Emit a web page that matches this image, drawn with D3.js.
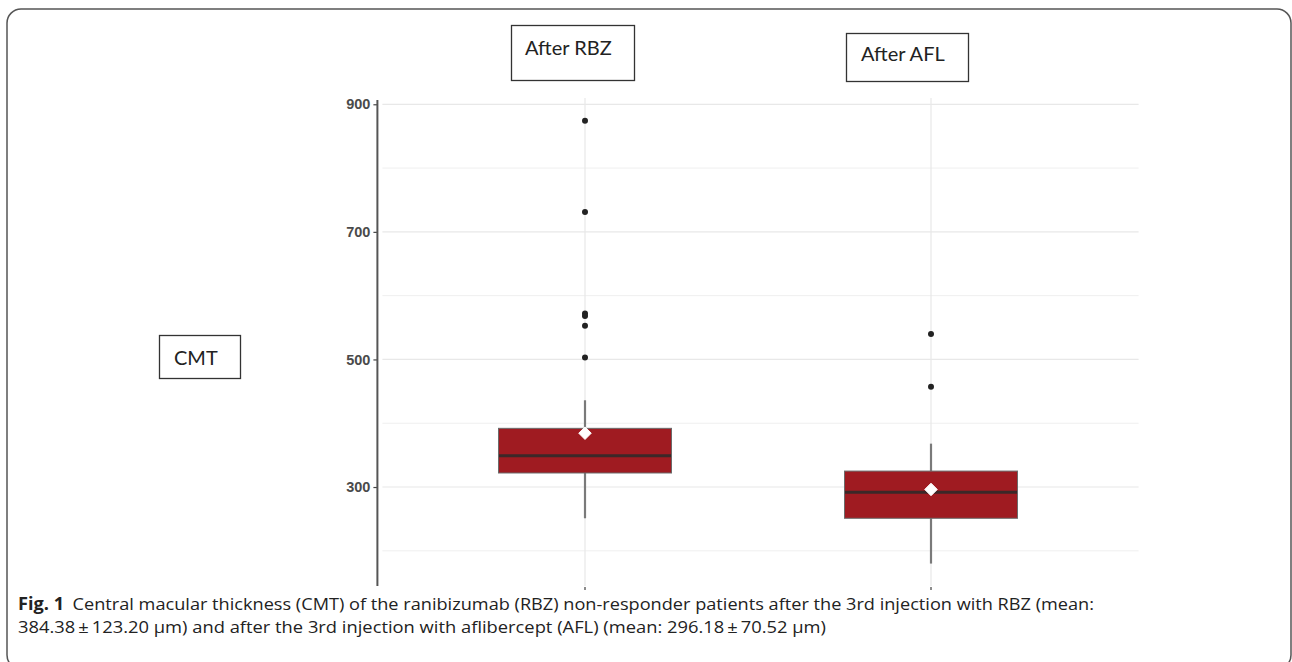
<!DOCTYPE html>
<html>
<head>
<meta charset="utf-8">
<script src="https://cdn.jsdelivr.net/npm/d3@7"></script>
<style>
  html, body { margin: 0; padding: 0; background: #fff; }
  svg { display: block; }
</style>
</head>
<body>
<svg id="chart" width="1292" height="662"></svg>
<script>
// ---- data ----
const categories = ["After RBZ", "After AFL"];
const lowerWhisker = [251, 180];
const q1 = [322, 251];
const median = [349, 292];
const q3 = [392, 325];
const upperWhisker = [436, 368];
const means = [384.38, 296.18];
const outliersRBZ = [874, 731, 572, 568, 553, 503];
const outliersAFL = [540, 457];
const majorTicks = [300, 500, 700, 900];
const minorTicks = [200, 400, 600, 800];
const yDomain = [145, 910];
const captionBold = "Fig. 1";
const captionLine1 = "Central macular thickness (CMT) of the ranibizumab (RBZ) non-responder patients after the 3rd injection with RBZ (mean:";
const captionLine2 = "384.38\u2009\u00B1\u2009123.20 \u03BCm) and after the 3rd injection with aflibercept (AFL) (mean: 296.18\u2009\u00B1\u200970.52 \u03BCm)";

const outliers = [outliersRBZ, outliersAFL];

const svg = d3.select("#chart");

// outer rounded frame
svg.append("rect")
  .attr("x", 7).attr("y", 9).attr("width", 1284).attr("height", 660)
  .attr("rx", 14).attr("ry", 14)
  .attr("fill", "none").attr("stroke", "#555").attr("stroke-width", 1.5);

const panelLeft = 377.4, panelRight = 1138.6;
const x = d3.scalePoint().domain(categories).range([panelLeft, panelRight]).padding(0.6);
const y = d3.scaleLinear().domain(yDomain).range([585.9, 97.9]);
const step = x.step();
const boxW = step * 0.5;

const g = svg.append("g");

// grid
g.selectAll("line.minor").data(minorTicks).join("line")
  .attr("x1", panelLeft + 5).attr("x2", panelRight)
  .attr("y1", d => y(d)).attr("y2", d => y(d))
  .attr("stroke", "#efefef").attr("stroke-width", 1);
g.selectAll("line.major").data(majorTicks).join("line")
  .attr("x1", panelLeft + 5).attr("x2", panelRight)
  .attr("y1", d => y(d)).attr("y2", d => y(d))
  .attr("stroke", "#e8e8e8").attr("stroke-width", 1.2);
g.selectAll("line.vgrid").data(categories).join("line")
  .attr("x1", d => x(d)).attr("x2", d => x(d))
  .attr("y1", y(yDomain[1])).attr("y2", y(yDomain[0]))
  .attr("stroke", "#e8e8e8").attr("stroke-width", 1.2);

// y axis
const yAxis = d3.axisLeft(y).tickValues(majorTicks).tickSize(4).tickPadding(3);
const ax = svg.append("g").attr("transform", `translate(${panelLeft},0)`).call(yAxis);
ax.select(".domain").remove();
ax.selectAll(".tick line").attr("stroke", "#444").attr("stroke-width", 1.2);
ax.selectAll(".tick text").attr("fill", "#4a4a4a")
  .style("font-family", "'Liberation Sans', Arial, sans-serif")
  .style("font-size", "14.5px").style("font-weight", "bold");
svg.append("line")
  .attr("x1", panelLeft).attr("x2", panelLeft)
  .attr("y1", y(yDomain[1]) + 2).attr("y2", y(yDomain[0]))
  .attr("stroke", "#555").attr("stroke-width", 2);

// x tick marks (tiny, at bottom)
svg.selectAll("line.xtick").data(categories).join("line")
  .attr("x1", d => x(d)).attr("x2", d => x(d))
  .attr("y1", y(yDomain[0]) + 1).attr("y2", y(yDomain[0]) + 4)
  .attr("stroke", "#666").attr("stroke-width", 1.5);

// boxplots
const bx = svg.append("g");
categories.forEach((c, i) => {
  const cx = x(c);
  bx.append("line").attr("x1", cx).attr("x2", cx)
    .attr("y1", y(upperWhisker[i])).attr("y2", y(q3[i]))
    .attr("stroke", "#7a7a7a").attr("stroke-width", 2.2);
  bx.append("line").attr("x1", cx).attr("x2", cx)
    .attr("y1", y(q1[i])).attr("y2", y(lowerWhisker[i]))
    .attr("stroke", "#7a7a7a").attr("stroke-width", 2.2);
  bx.append("rect")
    .attr("x", cx - boxW / 2).attr("width", boxW)
    .attr("y", y(q3[i])).attr("height", y(q1[i]) - y(q3[i]))
    .attr("fill", "#9f1b21").attr("stroke", "#6b6b6b").attr("stroke-width", 1);
  bx.append("line")
    .attr("x1", cx - boxW / 2 + 0.5).attr("x2", cx + boxW / 2 - 0.5)
    .attr("y1", y(median[i])).attr("y2", y(median[i]))
    .attr("stroke", "#3b2828").attr("stroke-width", 3);
  bx.selectAll(null).data(outliers[i]).join("circle")
    .attr("cx", cx).attr("cy", d => y(d)).attr("r", 3)
    .attr("fill", "#222");
  bx.append("path")
    .attr("d", d3.symbol(d3.symbolDiamond2, 100)())
    .attr("transform", `translate(${cx},${y(means[i])})`)
    .attr("fill", "#fff").attr("stroke", "#fff").attr("stroke-width", 1);
});

// annotation boxes
const labelFont = "Lato, 'Open Sans', sans-serif";
function labelBox(text, bxX, bxY, w, h, tx, ty) {
  svg.append("rect").attr("x", bxX).attr("y", bxY).attr("width", w).attr("height", h)
    .attr("fill", "#fff").attr("stroke", "#333").attr("stroke-width", 1.3);
  svg.append("text").attr("x", tx).attr("y", ty).text(text)
    .style("font-family", labelFont).style("font-size", "20px").attr("fill", "#222");
}
labelBox(categories[0], 511.5, 25.5, 123, 55, 525, 55);
labelBox(categories[1], 846.5, 33.5, 122, 48, 861, 61);
labelBox("CMT", 159.5, 335.5, 81, 43, 174, 365);

// caption
const capFont = "'Open Sans', sans-serif";
const cap1 = svg.append("text").attr("x", 18).attr("y", 610)
  .attr("textLength", 1076).attr("lengthAdjust", "spacingAndGlyphs")
  .style("font-family", capFont).style("font-size", "17px").attr("fill", "#222");
cap1.append("tspan").style("font-weight", "bold").text(captionBold);
cap1.append("tspan").attr("dx", 8).text(captionLine1);
svg.append("text").attr("x", 18).attr("y", 633)
  .attr("textLength", 808).attr("lengthAdjust", "spacingAndGlyphs")
  .style("font-family", capFont).style("font-size", "17px").attr("fill", "#222")
  .text(captionLine2);
</script>
</body>
</html>
